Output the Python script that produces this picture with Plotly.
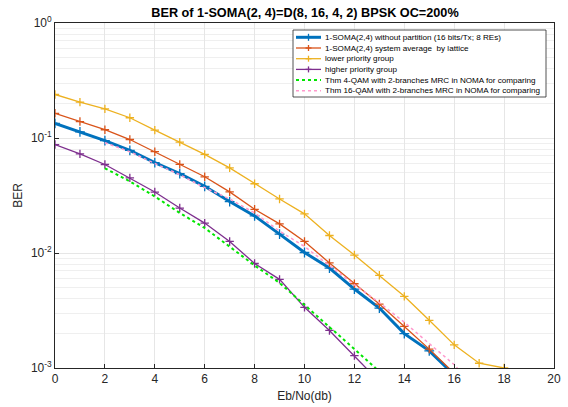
import plotly.graph_objects as go

# ---- data ----
snr_main = [0, 1, 2, 3, 4, 5, 6, 7, 8, 9, 10, 11, 12, 13, 14, 15, 16]
ber_no_partition = [0.134, 0.113, 0.095, 0.078, 0.061, 0.049, 0.038, 0.028, 0.021, 0.0146,
                    0.0101, 0.0074, 0.00486, 0.00332, 0.00199, 0.00141, 0.00087]
ber_sys_avg = [0.164, 0.139, 0.118, 0.097, 0.076, 0.059, 0.046, 0.034, 0.024, 0.0179,
               0.0126, 0.0082, 0.0054, 0.0036, 0.0023, 0.00146, 0.0009]

snr_low = [0, 1, 2, 3, 4, 5, 6, 7, 8, 9, 10, 11, 12, 13, 14, 15, 16, 17, 18]
ber_low = [0.239, 0.205, 0.179, 0.150, 0.117, 0.092, 0.072, 0.055, 0.040, 0.0295,
           0.0219, 0.0142, 0.0096, 0.0064, 0.0042, 0.0026, 0.00159, 0.0011, 0.001]

snr_high = [0, 1, 2, 3, 4, 5, 6, 7, 8, 9, 10, 11, 12, 13]
ber_high = [0.0877, 0.0727, 0.0588, 0.045, 0.0339, 0.0246, 0.0182, 0.0126, 0.0081, 0.0059,
            0.00337, 0.00212, 0.00128, 0.00076]

snr_thm4 = [2, 3, 4, 5, 6, 7, 8, 9, 10, 11, 12, 13]
ber_thm4 = [0.0545, 0.042, 0.031, 0.0223, 0.0165, 0.0113, 0.0078, 0.0055, 0.00355, 0.0023,
            0.00146, 0.00093]

snr_thm16 = [2, 3, 4, 5, 6, 7, 8, 9, 10, 11, 12, 13, 14, 15, 16, 17]
ber_thm16 = [0.091, 0.076, 0.060, 0.048, 0.037, 0.0295, 0.0223, 0.0155, 0.0114, 0.0078,
             0.0053, 0.0037, 0.0025, 0.00163, 0.00107, 0.0006]

series_names = [
    "1-SOMA(2,4) without partition (16 bits/Tx; 8 REs)",
    "1-SOMA(2,4) system average  by lattice",
    "lower priority group",
    "higher priority group",
    "Thm 4-QAM with 2-branches MRC in NOMA for comparing",
    "Thm 16-QAM with 2-branches MRC in NOMA for comparing",
]

x_ticks = [0, 2, 4, 6, 8, 10, 12, 14, 16, 18, 20]
y_tickvals = [0.001, 0.01, 0.1, 1]
y_ticktext = ["10<sup>-3</sup>", "10<sup>-2</sup>", "10<sup>-1</sup>", "10<sup>0</sup>"]

FONT = "Liberation Sans, Arial, sans-serif"
W, H = 568, 407
ML, MR, MT, MB = 55, 14, 23, 39
PW, PH = W - ML - MR, H - MT - MB

def px(x):
    return (x - ML) / PW

def py(y):
    return (H - MB - y) / PH

styles = [
    dict(color="#0072BD", width=3, marker=True, dash="solid", msize=7),
    dict(color="#D95319", width=1.3, marker=True, dash="solid", msize=6),
    dict(color="#EDB120", width=1.3, marker=True, dash="solid", msize=6),
    dict(color="#7E2F8E", width=1.3, marker=True, dash="solid", msize=6),
    dict(color="#00E600", width=2, marker=False, dash="dot", msize=0),
    dict(color="#FF99CC", width=1.5, marker=False, dash="dot", msize=0),
]
xs = [snr_main, snr_main, snr_low, snr_high, snr_thm4, snr_thm16]
ys = [ber_no_partition, ber_sys_avg, ber_low, ber_high, ber_thm4, ber_thm16]

fig = go.Figure()
for x, y, name, st in zip(xs, ys, series_names, styles):
    fig.add_trace(go.Scatter(
        x=x, y=y, name=name,
        mode="lines+markers" if st["marker"] else "lines",
        line=dict(color=st["color"], width=st["width"], dash=st["dash"]),
        marker=dict(symbol="cross-thin", size=st["msize"],
                    line=dict(color=st["color"], width=1.3)) if st["marker"] else None,
        showlegend=False,
    ))

# ---- legend drawn as a box with samples and text (MATLAB-style compact legend) ----
shapes = []
annotations = []
box_l, box_r, box_t, box_b = 293, 546, 30, 97
shapes.append(dict(type="rect", xref="paper", yref="paper",
                   x0=px(box_l), x1=px(box_r), y0=py(box_b), y1=py(box_t),
                   fillcolor="white", line=dict(color="#262626", width=0.8), layer="above"))
row_y = [37.3, 48.0, 58.7, 69.4, 80.1, 90.8]
for name, st, ry in zip(series_names, styles, row_y):
    shapes.append(dict(type="line", xref="paper", yref="paper",
                       x0=px(296), x1=px(321), y0=py(ry), y1=py(ry),
                       line=dict(color=st["color"], width=st["width"],
                                 dash=st["dash"]), layer="above"))
    if st["marker"]:
        h = st["msize"] / 2
        cx = 308.5
        shapes.append(dict(type="line", xref="paper", yref="paper",
                           x0=px(cx - h), x1=px(cx + h), y0=py(ry), y1=py(ry),
                           line=dict(color=st["color"], width=1.3), layer="above"))
        shapes.append(dict(type="line", xref="paper", yref="paper",
                           x0=px(cx), x1=px(cx), y0=py(ry - h), y1=py(ry + h),
                           line=dict(color=st["color"], width=1.3), layer="above"))
    annotations.append(dict(text=name, xref="paper", yref="paper",
                            x=px(323), y=py(ry), xanchor="left", yanchor="middle",
                            showarrow=False, font=dict(size=8.1, color="black",
                                                       family=FONT)))

fig.update_layout(
    width=W, height=H,
    margin=dict(l=ML, r=MR, t=MT, b=MB, autoexpand=False),
    paper_bgcolor="white", plot_bgcolor="white",
    font=dict(family=FONT, size=11, color="#262626"),
    title=dict(text="<b>BER of 1-SOMA(2, 4)=D(8, 16, 4, 2) BPSK OC=200%</b>",
               x=0.537, xanchor="center", y=0.968, yanchor="middle",
               font=dict(size=12.7, color="black")),
    showlegend=False,
    shapes=shapes,
    annotations=annotations,
)

fig.update_xaxes(
    range=[0, 20], tickvals=x_ticks, showgrid=True, gridcolor="#E6E6E6", gridwidth=1,
    zeroline=False, showline=True, linecolor="#262626", linewidth=0.8, mirror=True,
    ticks="inside", ticklen=4, tickcolor="#262626", automargin=False,
    title=dict(text="Eb/No(db)", font=dict(size=12), standoff=6),
    tickfont=dict(size=12),
)
fig.update_yaxes(
    type="log", range=[-3, 0], tickvals=y_tickvals, ticktext=y_ticktext,
    showgrid=True, gridcolor="#E6E6E6", gridwidth=1,
    minor=dict(showgrid=True, gridcolor="#EFEFEF", dtick="D1", ticks=""),
    zeroline=False, showline=True, linecolor="#262626", linewidth=0.8, mirror=True,
    ticks="inside", ticklen=4, tickcolor="#262626", automargin=False,
    title=dict(text="BER", font=dict(size=12), standoff=5),
    tickfont=dict(size=12),
)

fig.write_html(
    "out.html",
    config=dict(displayModeBar=False),
    post_script="document.body.style.margin='0px';document.documentElement.style.margin='0px';",
)
